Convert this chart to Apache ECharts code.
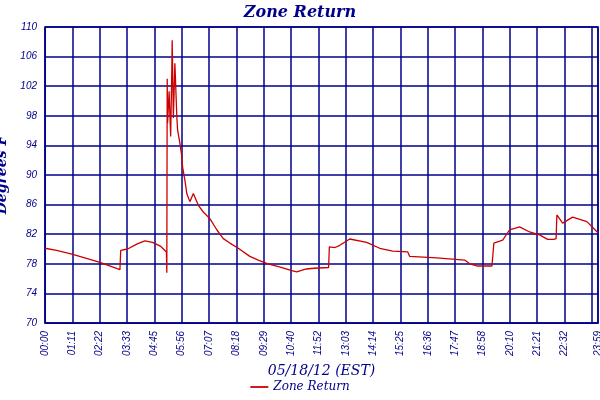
<!DOCTYPE html>
<html><head><meta charset="utf-8">
<script src="https://cdn.jsdelivr.net/npm/echarts@6/dist/echarts.min.js"></script>
<style>html,body{margin:0;background:#fff}#c{width:600px;height:400px}</style>
</head><body><div id="c"></div>
<script>
const minutes = [0,30,70,110,143,170,195,197,215,240,260,280,300,316,317,318,319,323,327,330,331,334,338,343,345,351,356,358,364,369,377,386,390,399,412,429,447,464,481,503,533,555,580,610,640,655,680,700,738,740,755,767,793,837,871,905,944,949,1019,1092,1105,1126,1163,1166,1168,1191,1209,1235,1261,1287,1308,1324,1330,1332,1347,1373,1410,1439];
const temps   = [80.1,79.8,79.3,78.7,78.2,77.7,77.2,79.8,80.0,80.7,81.1,80.9,80.4,79.6,76.8,103,97,101.3,95.2,104.4,108.2,97.7,105.1,97.9,96.1,94.3,92.5,91.1,89.3,87.5,86.4,87.5,87.3,85.9,85.0,84.1,82.6,81.4,80.8,80.1,79.0,78.5,78.0,77.6,77.1,76.9,77.3,77.4,77.5,80.3,80.2,80.5,81.35,80.9,80.1,79.7,79.6,79.0,78.8,78.5,78.0,77.7,77.7,79.5,80.8,81.2,82.6,83.0,82.3,81.9,81.3,81.3,81.4,84.6,83.5,84.3,83.7,82.2];
const yTicks = [70,74,78,82,86,90,94,98,102,106,110];
const navy = '#00008b';
function hm(v){const m=Math.round(v);return String(Math.floor(m/60)).padStart(2,'0')+':'+String(m%60).padStart(2,'0');}
const ch = echarts.init(document.getElementById('c'));
ch.setOption({
  animation:false,
  title:{text:'Zone Return',left:'center',top:0,textStyle:{color:navy,fontSize:16,fontStyle:'italic',fontWeight:'bold',fontFamily:'DejaVu Serif'}},
  legend:{bottom:2,left:'center',icon:'path://M0,5L20,5L20,7L0,7Z',itemWidth:18,itemHeight:6,textStyle:{color:navy,fontStyle:'italic',fontSize:12,fontFamily:'DejaVu Serif'}},
  grid:{left:45,right:2,top:27,bottom:77,containLabel:false,outerBoundsMode:'none',show:true,borderColor:navy,borderWidth:1.5},
  xAxis:{type:'value',min:0,max:1439,interval:71.15,
    name:'05/18/12 (EST)',nameLocation:'middle',nameGap:38,
    nameTextStyle:{color:navy,fontStyle:'italic',fontSize:14,fontFamily:'DejaVu Serif'},
    axisLine:{lineStyle:{color:navy}},axisTick:{show:false},
    axisLabel:{rotate:90,color:navy,fontSize:10,fontStyle:'italic',formatter:hm,showMaxLabel:true,showMinLabel:true,hideOverlap:false},
    splitLine:{show:true,lineStyle:{color:navy,width:1.5}}},
  yAxis:{type:'value',min:yTicks[0],max:yTicks[yTicks.length-1],interval:4,
    name:'Degrees F',nameLocation:'middle',nameGap:30,
    nameTextStyle:{color:navy,fontStyle:'italic',fontWeight:'bold',fontSize:14,fontFamily:'DejaVu Serif'},
    axisLine:{lineStyle:{color:navy}},axisTick:{show:false},
    axisLabel:{color:navy,fontSize:10,fontStyle:'italic'},
    splitLine:{show:true,lineStyle:{color:navy,width:1.5}}},
  series:[{name:'Zone Return',type:'line',showSymbol:false,symbol:'none',
    lineStyle:{color:'#cc0000',width:1.3},itemStyle:{color:'#cc0000'},
    data:minutes.map((m,i)=>[m,temps[i]])}]
});
</script></body></html>
